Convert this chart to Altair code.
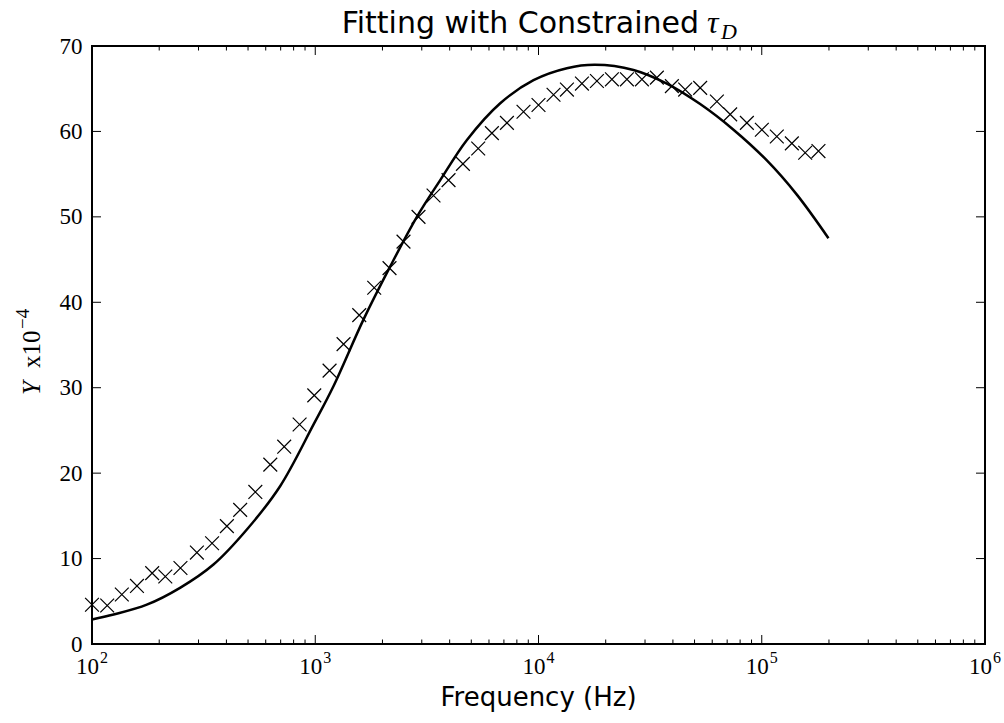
import altair as alt
import pandas as pd

# measured data (crosses)
freq = [100, 117, 136, 159, 186, 213, 249, 295, 345, 402, 461, 539, 629, 726, 851,
        990, 1159, 1339, 1574, 1837, 2151, 2485, 2901, 3387, 3954, 4587, 5370, 6184,
        7220, 8566, 10000, 11676, 13406, 15652, 18266, 21322, 24893, 29059, 33900,
        39580, 45394, 52990, 62950, 72210, 85780, 100100, 116800, 136400, 156500, 179500]
measured = [4.6, 4.5, 5.8, 6.8, 8.3, 7.9, 8.9, 10.7, 11.8, 13.8, 15.7, 17.8, 21.0, 23.1,
            25.7, 29.1, 32.0, 35.1, 38.5, 41.7, 44.0, 47.1, 50.0, 52.5, 54.3, 56.2, 58.0,
            59.8, 61.0, 62.3, 63.1, 64.3, 64.9, 65.6, 65.9, 66.1, 66.1, 66.1, 66.3, 65.3,
            64.9, 65.1, 63.5, 62.0, 61.0, 60.2, 59.4, 58.6, 57.5, 57.7]

# fitted curve
fit_freq = [100, 125, 176, 249, 350, 494, 697, 983, 1208, 1646, 2167, 2853, 3630,
            4780, 6740, 9500, 13400, 17900, 26630, 37580, 52990, 74700, 105400, 143600, 199000]
fit_val = [2.87, 3.45, 4.6, 6.6, 9.3, 13.4, 18.5, 25.7, 30.2, 38.0, 44.2, 50.0, 54.3,
           59.0, 63.3, 66.0, 67.4, 67.8, 67.2, 65.6, 63.2, 60.2, 56.6, 52.6, 47.5]

x_major = [100, 1000, 10000, 100000, 1000000]
x_tick_base = ["10", "10", "10", "10", "10"]
x_tick_exp = ["2", "3", "4", "5", "6"]
x_minor = [k * d for d in [100, 1000, 10000, 100000] for k in range(2, 10)]
y_major = [0, 10, 20, 30, 40, 50, 60, 70]

W, H = 893, 598

xscale = alt.Scale(type="log", domain=[100, 1000000], nice=False)
yscale = alt.Scale(domain=[0, 70], nice=False, zero=False)

y_axis = alt.Axis(
    values=y_major, ticks=False, domain=False, grid=False,
    labelFont="Liberation Serif", labelFontSize=23, labelColor="black", labelPadding=10,
    labelFlush=False, labelOverlap=False, title=None)

X = lambda: alt.X("f:Q", scale=xscale, axis=None)
Y = lambda: alt.Y("v:Q", scale=yscale, axis=y_axis, title=None)

fit_df = pd.DataFrame({"f": fit_freq, "v": fit_val})
meas_df = pd.DataFrame({"f": freq, "v": measured})

fit = alt.Chart(fit_df).mark_line(color="black", strokeWidth=2.5, interpolate="catmull-rom").encode(
    x=X(), y=Y())

pts = alt.Chart(meas_df).mark_point(
    shape="M-1,-1L1,1M-1,1L1,-1", size=190, filled=False, color="black",
    strokeWidth=1.2, opacity=1
).encode(x=X(), y=Y())


def xticks(vals, y1, y2):
    return alt.Chart(pd.DataFrame({"f": vals})).mark_rule(color="black", strokeWidth=1).encode(
        x=X(), y=alt.value(y1), y2=alt.value(y2))


def yticks(vals, x1, x2):
    return alt.Chart(pd.DataFrame({"v": vals})).mark_rule(color="black", strokeWidth=1).encode(
        y=Y(), x=alt.value(x1), x2=alt.value(x2))


tick_layers = [
    xticks(x_major, H, H - 9), xticks(x_minor, H, H - 4.5),
    xticks(x_major, 0, 9), xticks(x_minor, 0, 4.5),
    yticks(y_major, 0, 9), yticks(y_major, W, W - 9),
]

xlab_df = pd.DataFrame({"f": x_major, "base": x_tick_base, "exp": x_tick_exp})
xlab_base = alt.Chart(xlab_df).mark_text(
    font="Liberation Serif", fontSize=23, color="black", align="right",
    baseline="alphabetic", dx=7
).encode(x=X(), y=alt.value(H + 30), text="base:N")
xlab_exp = alt.Chart(xlab_df).mark_text(
    font="Liberation Serif", fontSize=16, color="black", align="left",
    baseline="alphabetic", dx=8
).encode(x=X(), y=alt.value(H + 19), text="exp:N")

dummy = pd.DataFrame({"a": [0]})


def label(text, x, y, **kw):
    return alt.Chart(dummy).mark_text(text=text, color="black", **kw).encode(
        x=alt.value(x), y=alt.value(y))


title_main = label("Fitting with Constrained", 607, -13, font="DejaVu Sans", fontSize=30,
                   align="right", baseline="alphabetic")
title_tau = label("τ", 615, -13, font="Liberation Serif", fontStyle="italic", fontSize=32,
                  align="left", baseline="alphabetic")
title_d = label("D", 629, -7, font="Liberation Serif", fontStyle="italic", fontSize=22,
                align="left", baseline="alphabetic")
xtitle = label("Frequency (Hz)", W / 2, 660, font="DejaVu Sans", fontSize=26,
               align="center", baseline="alphabetic")
ylab_y = label("Y", -60, 349, font="Liberation Serif", fontStyle="italic", fontSize=25,
               align="left", baseline="middle", angle=270)
ylab_x = label("x10", -60, 322, font="Liberation Serif", fontSize=25,
               align="left", baseline="middle", angle=270)
ylab_exp = label("−4", -69, 283, font="Liberation Serif", fontSize=19,
                 align="left", baseline="middle", angle=270)

chart = alt.layer(
    fit, pts, *tick_layers, xlab_base, xlab_exp,
    title_main, title_tau, title_d, xtitle, ylab_y, ylab_x, ylab_exp
).properties(
    width=W, height=H,
    autosize=alt.AutoSizeParams(type="none"),
    padding={"left": 92, "top": 46, "right": 19, "bottom": 79},
    background="white",
).configure_view(stroke="black", strokeWidth=2)

chart.save("out.html", embed_options={"renderer": "svg", "actions": False})
